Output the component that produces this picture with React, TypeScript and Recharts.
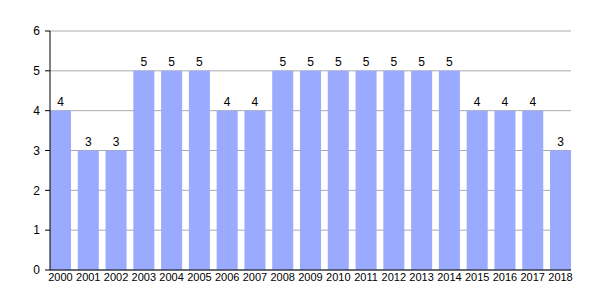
import { Bar, BarChart, CartesianGrid, LabelList, XAxis, YAxis } from "recharts";

const years = [
  "2000", "2001", "2002", "2003", "2004", "2005", "2006", "2007", "2008", "2009",
  "2010", "2011", "2012", "2013", "2014", "2015", "2016", "2017", "2018",
];
const counts = [4, 3, 3, 5, 5, 5, 4, 4, 5, 5, 5, 5, 5, 5, 5, 4, 4, 4, 3];
const yTicks = [0, 1, 2, 3, 4, 5, 6];

const data = years.map((year, i) => ({ year, value: counts[i] }));

const font = "'Liberation Sans', Arial, sans-serif";

export default function App() {
  return (
    <div style={{ position: "absolute", left: 0, top: 0, fontFamily: font }}>
      <BarChart
        width={600}
        height={300}
        data={data}
        margin={{ top: 31, right: 29, bottom: 10, left: 0 }}
        barCategoryGap={3.4}
      >
        <CartesianGrid vertical={false} stroke="#aaaaaa" />
        <XAxis
          dataKey="year"
          padding={{ left: -3.4, right: -3.4 }}
          axisLine={{ stroke: "#000" }}
          tickLine={false}
          tickSize={0}
          tick={{ fill: "#000", fontSize: 11, fontFamily: font }}
          tickMargin={3}
          interval={0}
          height={20}
        />
        <YAxis
          domain={[0, 6]}
          ticks={yTicks}
          width={50}
          axisLine={{ stroke: "#000" }}
          tickLine={{ stroke: "#000" }}
          tickSize={5}
          tick={{ fill: "#000", fontSize: 12, fontFamily: font }}
          tickMargin={5}
        />
        <Bar dataKey="value" fill="#99aaff" isAnimationActive={false}>
          <LabelList dataKey="value" position="top" offset={5} fill="#000" fontSize={12} fontFamily={font} />
        </Bar>
      </BarChart>
    </div>
  );
}
